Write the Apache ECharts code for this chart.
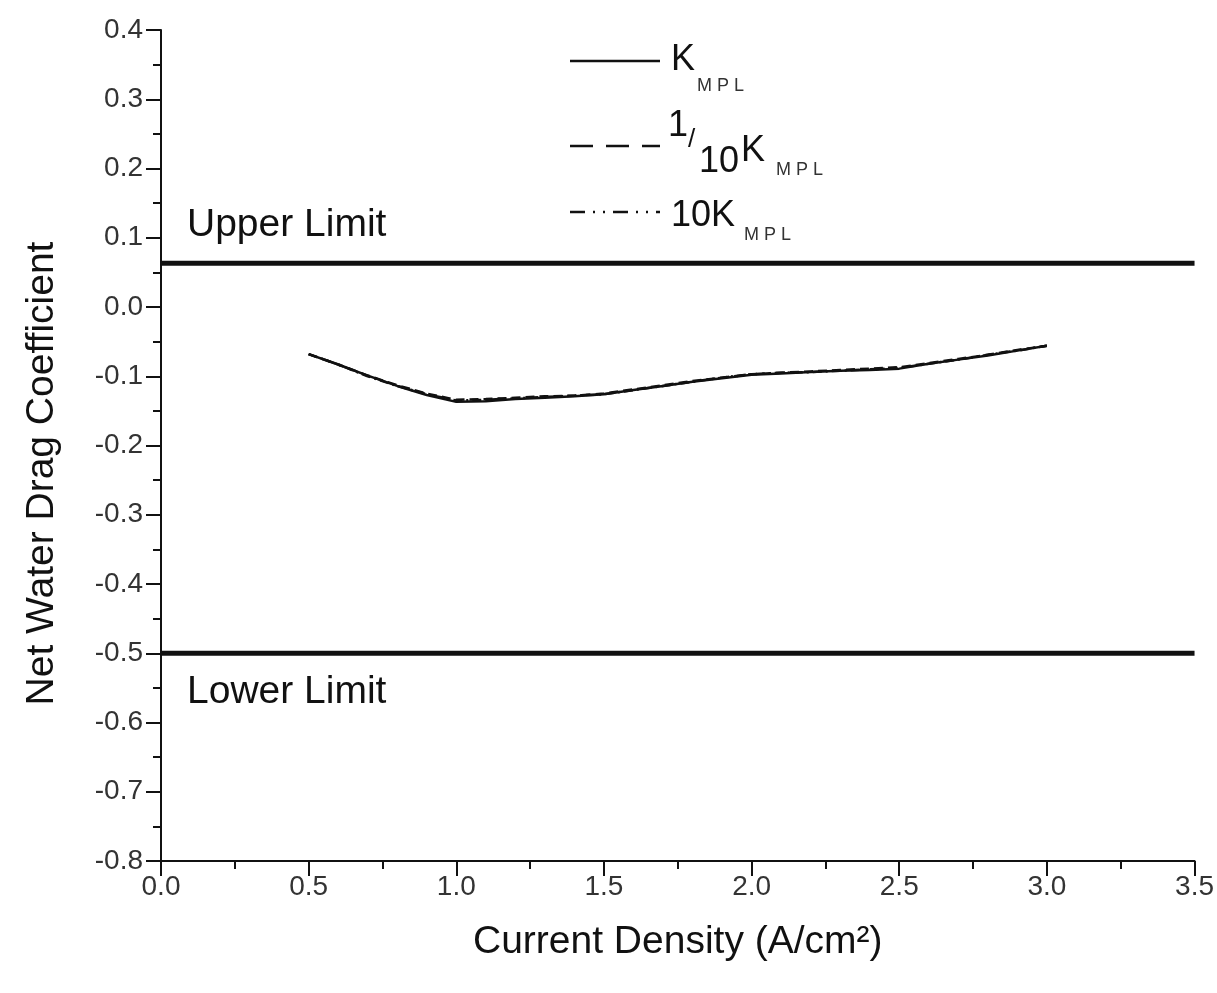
<!DOCTYPE html>
<html>
<head>
<meta charset="utf-8">
<title>Net Water Drag Coefficient</title>
<script src="https://cdn.jsdelivr.net/npm/echarts@6/dist/echarts.min.js"></script>
<style>
  html, body { margin: 0; padding: 0; background: #fff; }
  #chart { width: 1217px; height: 993px; }
</style>
</head>
<body>
<div id="chart"></div>
<script>
// Current density (A/cm^2) at which the drag coefficient was evaluated
const currentDensity = [0.5, 0.6, 0.7, 0.8, 0.9, 1.0, 1.1, 1.2, 1.3, 1.4, 1.5, 1.6, 1.7,
                        1.8, 1.9, 2.0, 2.1, 2.2, 2.3, 2.4, 2.5, 2.6, 2.7, 2.8, 2.9, 3.0];

// Net water drag coefficient for three MPL permeabilities
const dragKmpl = [-0.068, -0.083, -0.099, -0.114, -0.127, -0.137, -0.136, -0.133, -0.131, -0.129,
                  -0.126, -0.120, -0.114, -0.108, -0.103, -0.098, -0.096, -0.094, -0.092, -0.091,
                  -0.089, -0.082, -0.076, -0.070, -0.063, -0.056];
const dragTenthKmpl = [-0.068, -0.083, -0.099, -0.113, -0.125, -0.134, -0.133, -0.131, -0.129, -0.128,
                       -0.125, -0.119, -0.113, -0.107, -0.102, -0.097, -0.095, -0.093, -0.091, -0.089,
                       -0.087, -0.081, -0.075, -0.069, -0.062, -0.056];
const dragTenKmpl = [-0.068, -0.083, -0.100, -0.114, -0.126, -0.135, -0.134, -0.132, -0.130, -0.128,
                     -0.126, -0.120, -0.114, -0.108, -0.102, -0.097, -0.095, -0.094, -0.092, -0.090,
                     -0.088, -0.082, -0.076, -0.069, -0.063, -0.056];

// Operating limits of the net drag coefficient
const upperLimit = 0.063;
const lowerLimit = -0.5;
const axisXRange = [0, 3.5];
const axisYRange = [-0.8, 0.4];

const pair = (xs, ys) => xs.map((x, i) => [x, ys[i]]);

const chart = echarts.init(document.getElementById('chart'), null, { renderer: 'canvas' });

const ink = '#111';
const labelFont = 'Liberation Sans, Arial, sans-serif';
const bigFont = '39px ' + labelFont;
const keyFont = '36px ' + labelFont;
const subFont = '18px ' + labelFont;

const curveStyle = (type) => ({ color: ink, width: 2.5, type: type });

// one piece of text in the key, anchored at its left edge and vertical middle
const keyText = (text, x, y, font, fill) => ({
  type: 'text', x: x, y: y,
  style: { text: text, font: font, fill: fill || ink, textVerticalAlign: 'middle' }
});

chart.setOption({
  backgroundColor: '#ffffff',
  animation: false,
  grid: { left: 161, right: 21, top: 30, bottom: 132 },
  xAxis: {
    type: 'value',
    min: axisXRange[0], max: axisXRange[1], interval: 0.5,
    name: 'Current Density (A/cm²)',
    nameLocation: 'middle', nameGap: 62,
    nameTextStyle: { fontSize: 39, color: ink, fontFamily: labelFont },
    axisLine: { onZero: false, lineStyle: { color: ink, width: 2 } },
    axisTick: { length: 15, lineStyle: { color: ink, width: 2 } },
    minorTick: { show: true, splitNumber: 2, length: 8, lineStyle: { color: ink, width: 2 } },
    splitLine: { show: false },
    axisLabel: { fontSize: 28, color: '#333', margin: 12, fontFamily: labelFont,
                 formatter: v => v.toFixed(1) }
  },
  yAxis: {
    type: 'value',
    min: axisYRange[0], max: axisYRange[1], interval: 0.1,
    name: 'Net Water Drag Coefficient',
    nameLocation: 'middle', nameGap: 99, nameRotate: 90,
    nameTextStyle: { fontSize: 39, color: ink, fontFamily: labelFont, padding: [0, 56, 0, 0] },
    axisLine: { onZero: false, lineStyle: { color: ink, width: 2 } },
    axisTick: { length: 15, lineStyle: { color: ink, width: 2 } },
    minorTick: { show: true, splitNumber: 2, length: 8, lineStyle: { color: ink, width: 2 } },
    splitLine: { show: false },
    axisLabel: { fontSize: 28, color: '#333', margin: 18, fontFamily: labelFont,
                 formatter: v => v.toFixed(1) }
  },
  series: [
    { name: 'Upper Limit', type: 'line', symbol: 'none', silent: true,
      data: [[axisXRange[0], upperLimit], [axisXRange[1], upperLimit]],
      lineStyle: { color: ink, width: 5 } },
    { name: 'Lower Limit', type: 'line', symbol: 'none', silent: true,
      data: [[axisXRange[0], lowerLimit], [axisXRange[1], lowerLimit]],
      lineStyle: { color: ink, width: 5 } },
    { name: 'K_MPL', type: 'line', symbol: 'none', data: pair(currentDensity, dragKmpl),
      lineStyle: curveStyle('solid') },
    { name: '1/10 K_MPL', type: 'line', symbol: 'none', data: pair(currentDensity, dragTenthKmpl),
      lineStyle: curveStyle([9, 5]) },
    { name: '10 K_MPL', type: 'line', symbol: 'none', data: pair(currentDensity, dragTenKmpl),
      lineStyle: curveStyle([9, 4, 2, 4]) }
  ],
  graphic: [
    // limit annotations
    { type: 'text', x: 187, y: 225,
      style: { text: 'Upper Limit', font: bigFont, fill: ink, textVerticalAlign: 'middle' } },
    { type: 'text', x: 187, y: 692,
      style: { text: 'Lower Limit', font: bigFont, fill: ink, textVerticalAlign: 'middle' } },

    // key: solid line, K_MPL
    { type: 'line', shape: { x1: 570, y1: 61, x2: 660, y2: 61 },
      style: { stroke: ink, lineWidth: 2.5 } },
    keyText('K', 671, 60, keyFont),
    keyText('M P L', 697, 86, subFont, '#333'),

    // key: dashed line, 1/10 K_MPL
    { type: 'line', shape: { x1: 570, y1: 146, x2: 660, y2: 146 },
      style: { stroke: ink, lineWidth: 2.5, lineDash: [23, 13] } },
    keyText('1', 668, 126, keyFont),
    keyText('/', 688, 140, '26px ' + labelFont),
    keyText('10', 699, 162, keyFont),
    keyText('K', 741, 151, keyFont),
    keyText('M P L', 776, 170, subFont, '#333'),

    // key: dash-dot line, 10 K_MPL
    { type: 'line', shape: { x1: 570, y1: 212, x2: 660, y2: 212 },
      style: { stroke: ink, lineWidth: 2.5, lineDash: [15, 8, 2, 8, 2, 8] } },
    keyText('10K', 671, 216, keyFont),
    keyText('M P L', 744, 235, subFont, '#333')
  ]
});
</script>
</body>
</html>
